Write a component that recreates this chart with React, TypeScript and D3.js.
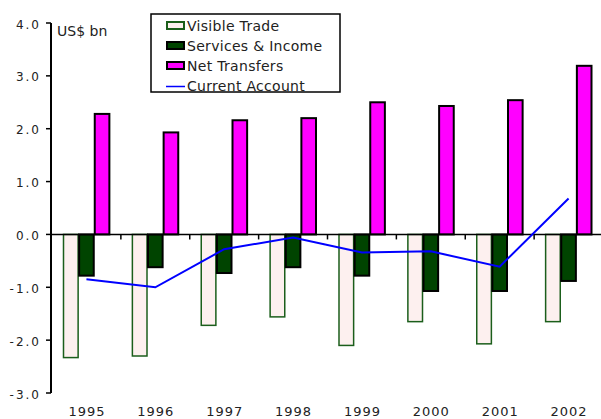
import React from "react";
import * as d3 from "d3";

const years = ["1995", "1996", "1997", "1998", "1999", "2000", "2001", "2002"];
const visibleTrade = [-2.33, -2.3, -1.72, -1.56, -2.1, -1.65, -2.07, -1.65];
const servicesIncome = [-0.78, -0.62, -0.73, -0.62, -0.78, -1.07, -1.07, -0.88];
const netTransfers = [2.28, 1.93, 2.16, 2.2, 2.5, 2.43, 2.54, 3.19];
const currentAccount = [-0.85, -1.0, -0.28, -0.06, -0.34, -0.32, -0.61, 0.68];
const yTicks = [4, 3, 2, 1, 0, -1, -2, -3];

const seriesNames = ["Visible Trade", "Services & Income", "Net Transfers", "Current Account"];

export default function App() {
  const W = 601, H = 419;
  const x0 = 51, x1 = 603;
  const y = d3.scaleLinear().domain([-3, 4]).range([393, 23]);
  const x = d3.scaleBand().domain(years).range([x0 + 1, x1]).paddingInner(0).paddingOuter(0);
  const bw = x.bandwidth();
  const inner = d3.scaleBand().domain(["v", "s", "n"]).range([11, bw - 11]).padding(0);
  const font = "DejaVu Sans, Verdana, sans-serif";
  const line = d3
    .line<number>()
    .x((_, i) => (x(years[i]) as number) + bw / 2)
    .y((d) => y(d));

  const series = [
    { key: "v", data: visibleTrade, fill: "#fdf0ef", stroke: "#1b5e1b" },
    { key: "s", data: servicesIncome, fill: "#004400", stroke: "#000" },
    { key: "n", data: netTransfers, fill: "#ff00ff", stroke: "#000" },
  ];

  return (
    <svg width={W} height={H} style={{ position: "absolute", left: 0, top: 0, background: "#fff" }}>
      {series.map((s) =>
        s.data.map((v, i) => {
          const bx = (x(years[i]) as number) + (inner(s.key) as number);
          const yt = y(Math.max(0, v));
          const yb = y(Math.min(0, v));
          return (
            <rect
              key={s.key + i}
              x={bx + 0.5}
              y={yt}
              width={inner.bandwidth() - 1}
              height={yb - yt}
              fill={s.fill}
              stroke={s.stroke}
              strokeWidth={s.key === "v" ? 1.5 : 2}
            />
          );
        })
      )}
      {/* zero axis */}
      <line x1={x0} x2={W} y1={y(0)} y2={y(0)} stroke="#000" strokeWidth={1.5} />
      {years.map((yr, i) =>
        i > 0 ? (
          <line key={"xt" + yr} x1={x(yr) as number} x2={x(yr) as number} y1={y(0)} y2={y(0) + 5} stroke="#000" strokeWidth={1.5} />
        ) : null
      )}
      {/* y axis */}
      <line x1={x0} x2={x0} y1={y(4)} y2={y(-3)} stroke="#000" strokeWidth={2} />
      {yTicks.map((t) => (
        <g key={"yt" + t}>
          <line x1={x0 - 5} x2={x0} y1={y(t)} y2={y(t)} stroke="#000" strokeWidth={1.5} />
          <text x={41} y={y(t) + 5.5} textAnchor="end" fontFamily={font} fontSize={12} letterSpacing={2} fill="#222">
            {t.toFixed(1)}
          </text>
        </g>
      ))}
      {years.map((yr) => (
        <text key={"xl" + yr} x={(x(yr) as number) + bw / 2 + 0.5} y={415.5} textAnchor="middle" fontFamily={font} fontSize={13} letterSpacing={1} fill="#222">
          {yr}
        </text>
      ))}
      <text x={57} y={36} fontFamily={font} fontSize={14} fill="#222">US$ bn</text>
      <path d={line(currentAccount) || ""} fill="none" stroke="#0000ff" strokeWidth={2} />
      {/* legend */}
      <rect x={151} y={14} width={189} height={78} fill="#fff" stroke="#000" strokeWidth={1.5} />
      {seriesNames.map((name, i) => {
        const cy = 25.5 + i * 20;
        const sw = series[i];
        return (
          <g key={name}>
            {sw ? (
              <rect x={167} y={cy - 3.5} width={17} height={7} fill={sw.fill} stroke={i === 0 ? sw.stroke : "#000"} strokeWidth={2} />
            ) : (
              <line x1={166} x2={185} y1={cy + 1} y2={cy + 1} stroke="#0000ff" strokeWidth={1.5} />
            )}
            <text x={187} y={cy + 5.5} fontFamily={font} fontSize={14} letterSpacing={0.3} fill="#222">
              {name}
            </text>
          </g>
        );
      })}
    </svg>
  );
}
